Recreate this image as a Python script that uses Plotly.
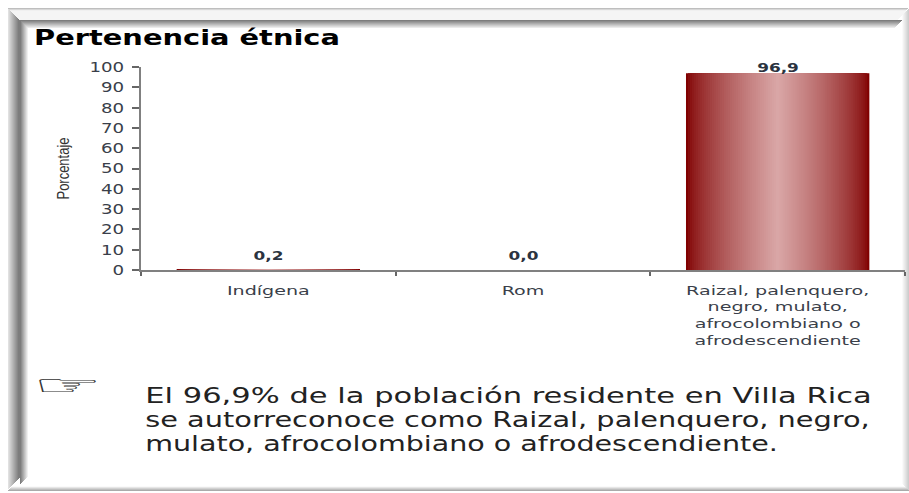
import json
import plotly.graph_objects as go

categories = ["Indígena", "Rom",
              "Raizal, palenquero,<br>negro, mulato,<br>afrocolombiano o<br>afrodescendiente"]
values = [0.2, 0.0, 96.9]
value_labels = ["0,2", "0,0", "96,9"]
label_shift = [5, 5, -4]
y_ticks = list(range(0, 101, 10))
title_text = "Pertenencia étnica"
axis_title = "Porcentaje"
note_lines = ["El 96,9% de la población residente en Villa Rica",
              "se autorreconoce como Raizal, palenquero, negro,",
              "mulato, afrocolombiano o afrodescendiente."]
hand = "☞"

W, H = 909, 493
L, R, T, B = 141, 905, 67, 270


def xp(px):
    return (px - L) / (R - L)


def yp(py):
    return (B - py) / (B - T)


def mix(c0, c1, t):
    return "rgb(%d,%d,%d)" % tuple(round(a + (b - a) * t) for a, b in zip(c0, c1))


fig = go.Figure()

# gradient bars: nested layers from the edge colour to the centre colour
DARK, LIGHT = (128, 0, 0), (217, 166, 166)
BAR_WIDTH = 0.72
LAYERS = 46
for i in range(LAYERS):
    t = i / (LAYERS - 1)
    fig.add_trace(go.Bar(
        x=categories, y=values,
        width=BAR_WIDTH * (1 - t * 0.98),
        marker=dict(color=mix(DARK, LIGHT, t ** 0.7), opacity=1, line=dict(width=0)),
        showlegend=False, hoverinfo="skip",
    ))

shapes = []


def strip(x0, y0, x1, y1, color):
    shapes.append(dict(type="rect", xref="paper", yref="paper",
                       x0=xp(x0), x1=xp(x1), y0=yp(y0), y1=yp(y1),
                       fillcolor=color, line=dict(width=0), layer="below"))


G = lambda v: (v, v, v)
# outer bevel
for k in range(3):
    strip(8 + k, 8 + k, 908 - k, 9 + k, mix(G(190), G(240), k / 2))
for k, y in enumerate(range(11, 20)):
    strip(8 + k + 3, y, 906 - k, y + 1, "rgb(245,245,245)")
for k in range(12):
    x = 8 + k
    strip(x, 9 + k, x + 1, 489 - k, mix(G(225), G(125), min(k / 10, 1)))
for k in range(7):
    x = 908 - k
    strip(x, 9 + k, x + 1, 490 - k, mix(G(205), G(250), k / 6))
for k in range(5):
    y = 490 - k
    strip(8 + k, y, 909 - k, y + 1, mix(G(170), G(250), k / 4))
# inner bevel
for k in range(8):
    x = 20 + k
    strip(x, 20 + k, x + 1, 484 - k, mix(G(125), G(240), k / 7))
for k in range(8):
    y = 20 + k
    strip(20 + k, y, 902 - k, y + 1, mix(G(125), G(235), k / 7))

annotations = []
for cat, val, lab, sh in zip(categories, values, value_labels, label_shift):
    annotations.append(dict(x=cat, y=val, xref="x", yref="y", text="<b>%s</b>" % lab,
                            showarrow=False, yanchor="bottom", yshift=sh,
                            font=dict(family="DejaVu Sans", size=13, color="#2b3340")))
annotations.append(dict(x=xp(32), y=yp(38), xref="paper", yref="paper", text="<b>%s</b>" % title_text,
                        showarrow=False, xanchor="left", yanchor="middle",
                        font=dict(family="DejaVu Sans", size=21, color="#000000")))
for line, py in zip(note_lines, [396, 420, 444]):
    annotations.append(dict(x=xp(143), y=yp(py), xref="paper", yref="paper", text=line,
                            showarrow=False, xanchor="left", yanchor="middle",
                            font=dict(family="DejaVu Sans", size=21, color="#222222")))
annotations.append(dict(x=xp(67), y=yp(385), xref="paper", yref="paper", text=hand,
                        showarrow=False, xanchor="center", yanchor="middle",
                        font=dict(family="DejaVu Sans", size=28, color="#333333")))

fig.update_layout(
    width=W, height=H, barmode="overlay",
    margin=dict(l=L, r=W - R, t=T, b=H - B, pad=0, autoexpand=False),
    paper_bgcolor="white", plot_bgcolor="white",
    shapes=shapes, annotations=annotations,
    font=dict(family="DejaVu Sans", color="#3a3f4a"),
    xaxis=dict(type="category", categoryorder="array", categoryarray=categories,
               range=[-0.5, 2.5], tickson="boundaries", ticks="outside", ticklen=4,
               tickcolor="#666666", tickwidth=1.5, showline=True, linecolor="#808080",
               linewidth=2, showgrid=False, ticklabelstandoff=7,
               tickfont=dict(family="DejaVu Sans", size=13)),
    yaxis=dict(range=[0, 100], tickvals=y_ticks, ticks="outside", ticklen=7,
               tickcolor="#666666", tickwidth=1.5, showline=True, linecolor="#808080",
               linewidth=2, showgrid=False, zeroline=False, ticklabelstandoff=5,
               tickfont=dict(family="DejaVu Sans", size=14),
               title=dict(text=axis_title, standoff=24,
                          font=dict(family="Liberation Sans", size=17, color="#333333"))),
)

# horizontal stretch of the text, as in the reference (target width, anchor fraction)
stretch = {title_text: [306, 0], note_lines[0]: [727, 0], note_lines[1]: [725, 0],
           note_lines[2]: [633, 0], hand: [70, 0.5]}
js = """
document.body.style.margin='0';document.body.style.overflow='hidden';
var S=%s;
function st(el,s,f){var b=el.getBBox();var a=b.x+b.width*f;var o=el.getAttribute('transform')||'';
 el.setAttribute('transform',o+' translate('+a+',0) scale('+s+',1) translate('+(-a)+',0)');}
document.querySelectorAll('.annotation-text').forEach(function(e){var k=e.textContent;
 if(S[k]){st(e,S[k][0]/e.getBBox().width,S[k][1]);}else{st(e,1.3,0.5);}});
document.querySelectorAll('.xtick text').forEach(function(e){st(e,1.47,0.5);});
document.querySelectorAll('.ytick text').forEach(function(e){st(e,1.3,1);});
document.querySelectorAll('.ytitle').forEach(function(e){st(e,62/e.getBBox().width,0.5);});
""" % json.dumps(stretch, ensure_ascii=False)

fig.write_html("out.html", config={"displayModeBar": False}, post_script=js)
